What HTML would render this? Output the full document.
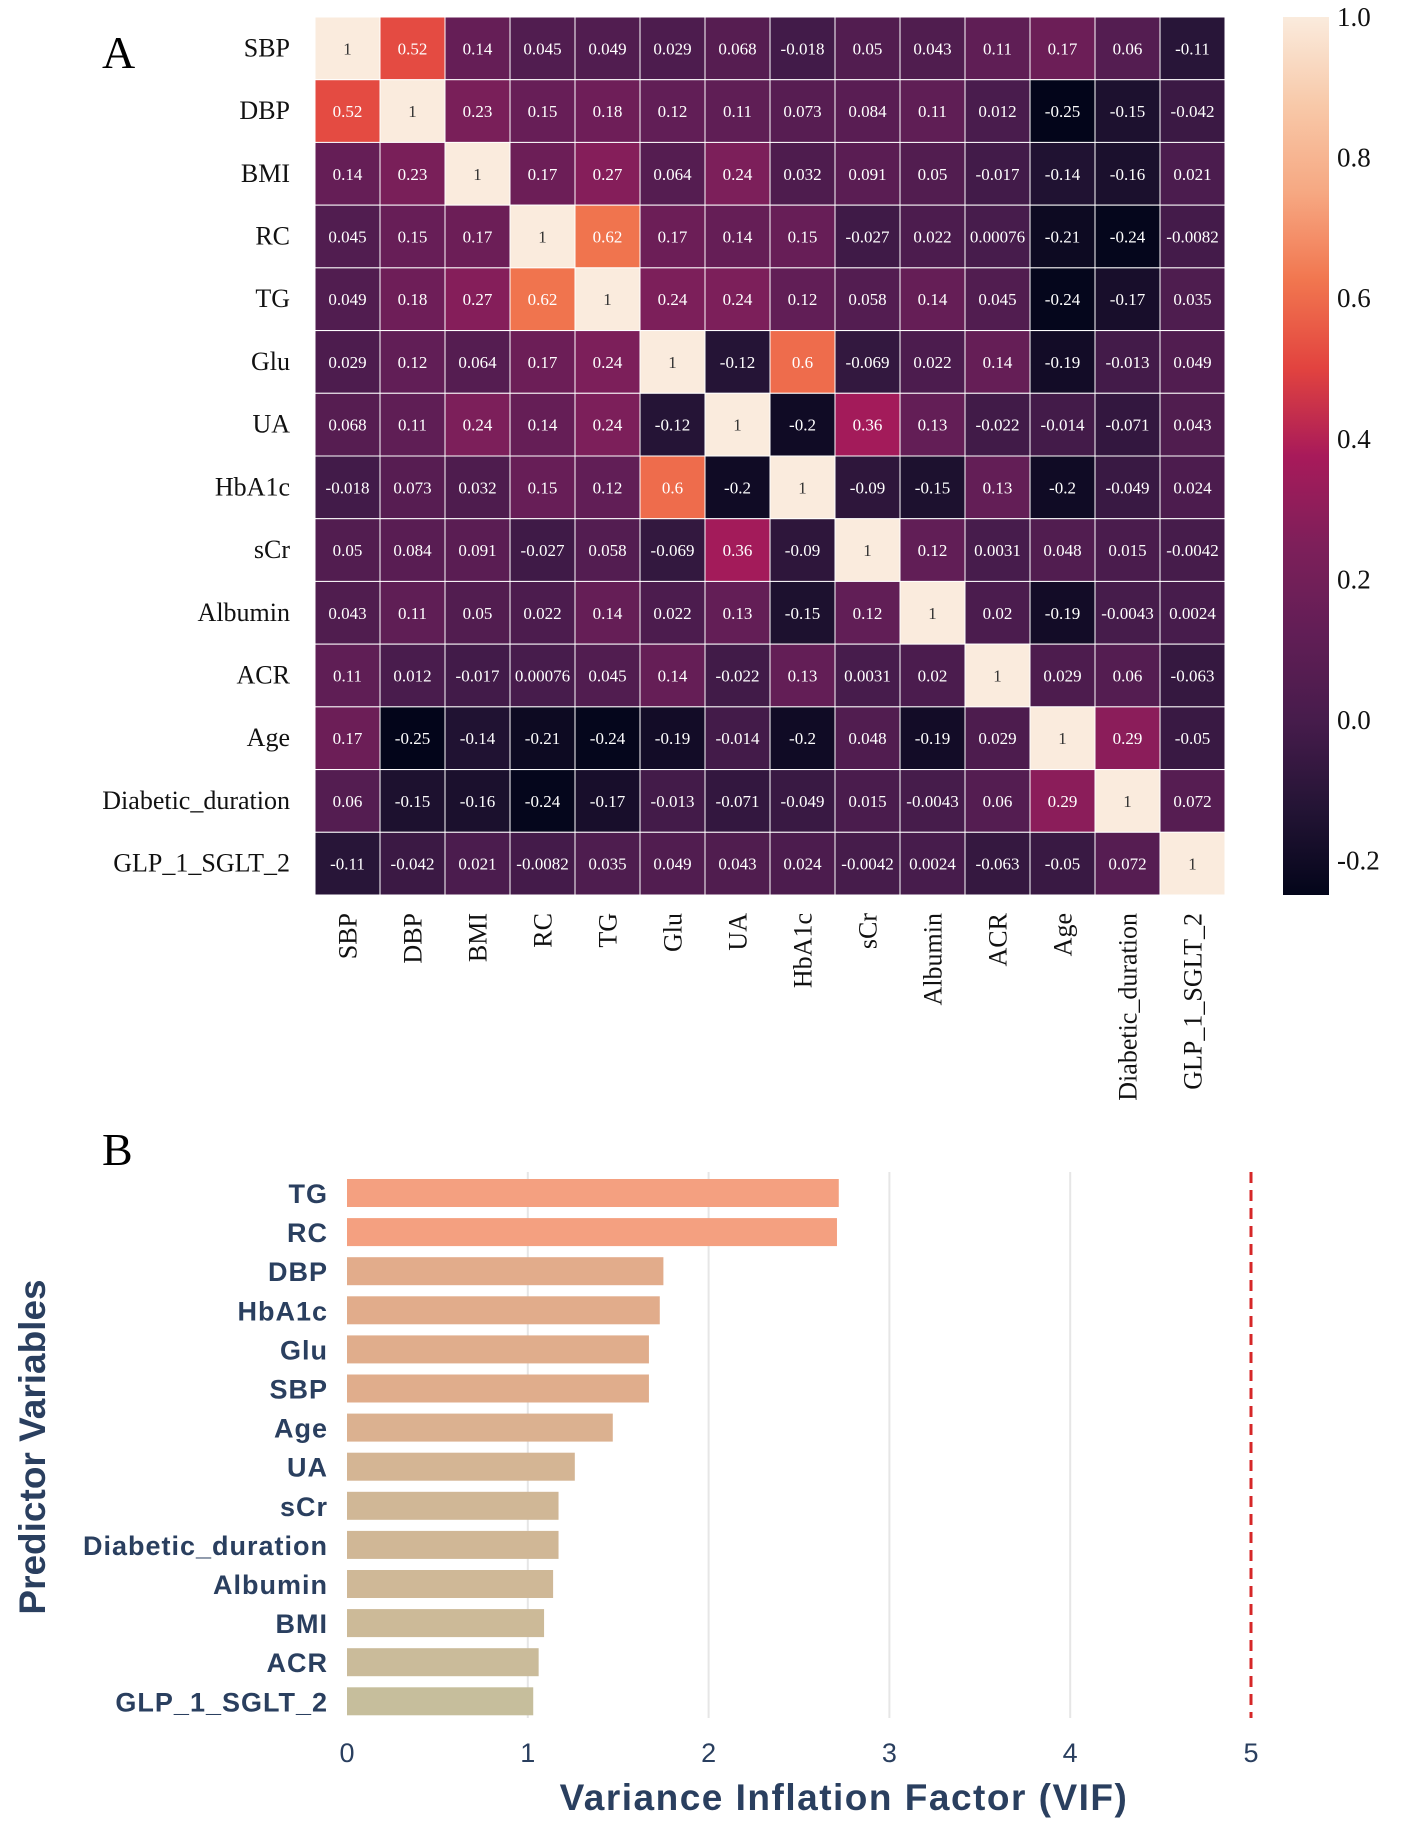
<!DOCTYPE html>
<html><head><meta charset="utf-8"><style>
html,body{margin:0;padding:0;background:#fff;}
svg{display:block;}
</style></head><body>
<svg id="fig" width="1418" height="1830" viewBox="0 0 1418 1830" xmlns="http://www.w3.org/2000/svg">
<text x="102" y="68" font-family="Liberation Serif, serif" font-size="46" fill="#000">A</text>
<text x="102" y="1165" font-family="Liberation Serif, serif" font-size="46" fill="#000">B</text>
<g id="heat"></g>
<g id="cbar"></g>
<g id="bars"></g>
</svg>
<script>
const vars = ["SBP","DBP","BMI","RC","TG","Glu","UA","HbA1c","sCr","Albumin","ACR","Age","Diabetic_duration","GLP_1_SGLT_2"];
const corr = [
[1,0.52,0.14,0.045,0.049,0.029,0.068,-0.018,0.05,0.043,0.11,0.17,0.06,-0.11],
[0.52,1,0.23,0.15,0.18,0.12,0.11,0.073,0.084,0.11,0.012,-0.25,-0.15,-0.042],
[0.14,0.23,1,0.17,0.27,0.064,0.24,0.032,0.091,0.05,-0.017,-0.14,-0.16,0.021],
[0.045,0.15,0.17,1,0.62,0.17,0.14,0.15,-0.027,0.022,0.00076,-0.21,-0.24,-0.0082],
[0.049,0.18,0.27,0.62,1,0.24,0.24,0.12,0.058,0.14,0.045,-0.24,-0.17,0.035],
[0.029,0.12,0.064,0.17,0.24,1,-0.12,0.6,-0.069,0.022,0.14,-0.19,-0.013,0.049],
[0.068,0.11,0.24,0.14,0.24,-0.12,1,-0.2,0.36,0.13,-0.022,-0.014,-0.071,0.043],
[-0.018,0.073,0.032,0.15,0.12,0.6,-0.2,1,-0.09,-0.15,0.13,-0.2,-0.049,0.024],
[0.05,0.084,0.091,-0.027,0.058,-0.069,0.36,-0.09,1,0.12,0.0031,0.048,0.015,-0.0042],
[0.043,0.11,0.05,0.022,0.14,0.022,0.13,-0.15,0.12,1,0.02,-0.19,-0.0043,0.0024],
[0.11,0.012,-0.017,0.00076,0.045,0.14,-0.022,0.13,0.0031,0.02,1,0.029,0.06,-0.063],
[0.17,-0.25,-0.14,-0.21,-0.24,-0.19,-0.014,-0.2,0.048,-0.19,0.029,1,0.29,-0.05],
[0.06,-0.15,-0.16,-0.24,-0.17,-0.013,-0.071,-0.049,0.015,-0.0043,0.06,0.29,1,0.072],
[-0.11,-0.042,0.021,-0.0082,0.035,0.049,0.043,0.024,-0.0042,0.0024,-0.063,-0.05,0.072,1]
];
const cbarTicks = [1.0,0.8,0.6,0.4,0.2,0.0,-0.2];
const vifNames = ["TG","RC","DBP","HbA1c","Glu","SBP","Age","UA","sCr","Diabetic_duration","Albumin","BMI","ACR","GLP_1_SGLT_2"];
const vifValues = [2.72,2.71,1.75,1.73,1.67,1.67,1.47,1.26,1.17,1.17,1.14,1.09,1.06,1.03];
const vifTicks = [0,1,2,3,4,5];
const vifThreshold = 5;

const NS="http://www.w3.org/2000/svg";
function mk(tag, attrs, parent){const e=document.createElementNS(NS,tag);for(const k in attrs)e.setAttribute(k,attrs[k]);parent.appendChild(e);return e;}
const stops=[[0,"#03051a"],[0.1,"#241435"],[0.2,"#471c4c"],[0.3,"#621e56"],[0.4,"#7e1f5a"],[0.5,"#a81a5a"],[0.6,"#e2433f"],[0.7,"#f1764f"],[0.8,"#f6a882"],[0.9,"#f8c9a9"],[1,"#faebdd"]];
function hex(h){return [1,3,5].map(i=>parseInt(h.substr(i,2),16));}
function cmap(t){t=Math.max(0,Math.min(1,t));for(let i=1;i<stops.length;i++){if(t<=stops[i][0]){const a=stops[i-1],b=stops[i];const f=(t-a[0])/(b[0]-a[0]);const ca=hex(a[1]),cb=hex(b[1]);return "rgb("+ca.map((c,j)=>Math.round(c+(cb[j]-c)*f)).join(",")+")";}}return stops[stops.length-1][1];}
const vmin=-0.249,vmax=1;
const norm=v=>(v-vmin)/(vmax-vmin);

const heat=document.getElementById('heat');
const HX=315,HY=17,HW=910,HH=878,n=vars.length,cw=HW/n,ch=HH/n;
const cx=j=>HX+j*cw, cy=i=>HY+i*ch;
for(let i=0;i<n;i++){for(let j=0;j<n;j++){
  const v=corr[i][j];
  const r=mk('rect',{x:cx(j),y:cy(i),width:cw,height:ch,fill:cmap(norm(v)),stroke:"#ffffff","stroke-width":1},heat);
  
  
  const t=mk('text',{x:cx(j)+cw/2,y:cy(i)+ch/2+6,"text-anchor":"middle","font-family":"Liberation Serif, serif","font-size":17,fill:norm(v)>0.8?"#333":"#fff"},heat);
  t.textContent=String(v);
  
  
}}
vars.forEach((nm,i)=>{
  const t=mk('text',{x:290,y:cy(i)+ch/2+8,"text-anchor":"end","font-family":"Liberation Serif, serif","font-size":26,fill:"#111"},heat);
  t.textContent=nm;
  
  
  const xx=cx(i)+cw/2+9;
  const c=mk('text',{x:xx,y:913,"text-anchor":"end","font-family":"Liberation Serif, serif","font-size":26,fill:"#111",transform:"rotate(-90 "+xx+" 913)"},heat);
  c.textContent=nm;
  
  
});

const cb=document.getElementById('cbar');
const defs=mk('defs',{},cb);
const lg=mk('linearGradient',{id:"cg",x1:0,y1:1,x2:0,y2:0},defs);
for(let k=0;k<=20;k++){mk('stop',{offset:k/20,"stop-color":cmap(k/20)},lg);}
const CBX=1283,CBW=46,CBT=17,CBB=895;
const cbY=v=>CBB-(v-vmin)/(vmax-vmin)*(CBB-CBT);
const cr=mk('rect',{x:CBX,y:CBT,width:CBW,height:CBB-CBT,fill:"url(#cg)"},cb);


cbarTicks.forEach(v=>{
  const t=mk('text',{x:1337,y:cbY(v)+9,"font-family":"Liberation Serif, serif","font-size":27,fill:"#111"},cb);
  t.textContent=v.toFixed(1);
  
  
});

const bg=document.getElementById('bars');
const X0=347,X5=1251,GT=1172,GB=1718;
const xs=v=>X0+v*(X5-X0)/5;
const rowY0=1193,rowStep=39.1,bh=28;
const ys=i=>rowY0+i*rowStep;
vifTicks.forEach(v=>{
  if(v>0&&v<5){const l=mk('line',{x1:xs(v),x2:xs(v),y1:GT,y2:GB,stroke:"#e6e6e6","stroke-width":2},bg);
  
  }
  const t=mk('text',{x:xs(v),y:1762,"text-anchor":"middle","font-family":"Liberation Sans, sans-serif","font-size":27,fill:"#2a3f5f"},bg);
  t.textContent=String(v);
  
  
});
const lo=hex("#c6be9c"),hi=hex("#f4a080");
const vmaxB=Math.max(...vifValues),vminB=Math.min(...vifValues);
vifNames.forEach((nm,i)=>{
  const f=(vifValues[i]-vminB)/(vmaxB-vminB);
  const col="rgb("+lo.map((c,j)=>Math.round(c+(hi[j]-c)*Math.pow(f,0.6))).join(",")+")";
  const r=mk('rect',{x:xs(0),y:ys(i)-bh/2,width:xs(vifValues[i])-xs(0),height:bh,fill:col},bg);
  
  
  const t=mk('text',{x:328,y:ys(i)+10,"text-anchor":"end","font-family":"Liberation Sans, sans-serif","font-weight":"bold","font-size":27,"letter-spacing":"1",fill:"#2a3f5f"},bg);
  t.textContent=nm;
  
  
});
const th=mk('line',{x1:xs(vifThreshold),x2:xs(vifThreshold),y1:GT,y2:GB,stroke:"#d62728","stroke-width":3,"stroke-dasharray":"11,7"},bg);


const xt=mk('text',{x:844,y:1810,"text-anchor":"middle","font-family":"Liberation Sans, sans-serif","font-weight":"bold","font-size":37,"letter-spacing":"1.5",fill:"#2a3f5f"},bg);
xt.textContent="Variance Inflation Factor (VIF)";


const yt=mk('text',{x:45,y:1447,"text-anchor":"middle","font-family":"Liberation Sans, sans-serif","font-weight":"bold","font-size":37,fill:"#2a3f5f",transform:"rotate(-90 45 1447) scale(1,1)"},bg);
yt.textContent="Predictor Variables";


</script>
</body></html>
